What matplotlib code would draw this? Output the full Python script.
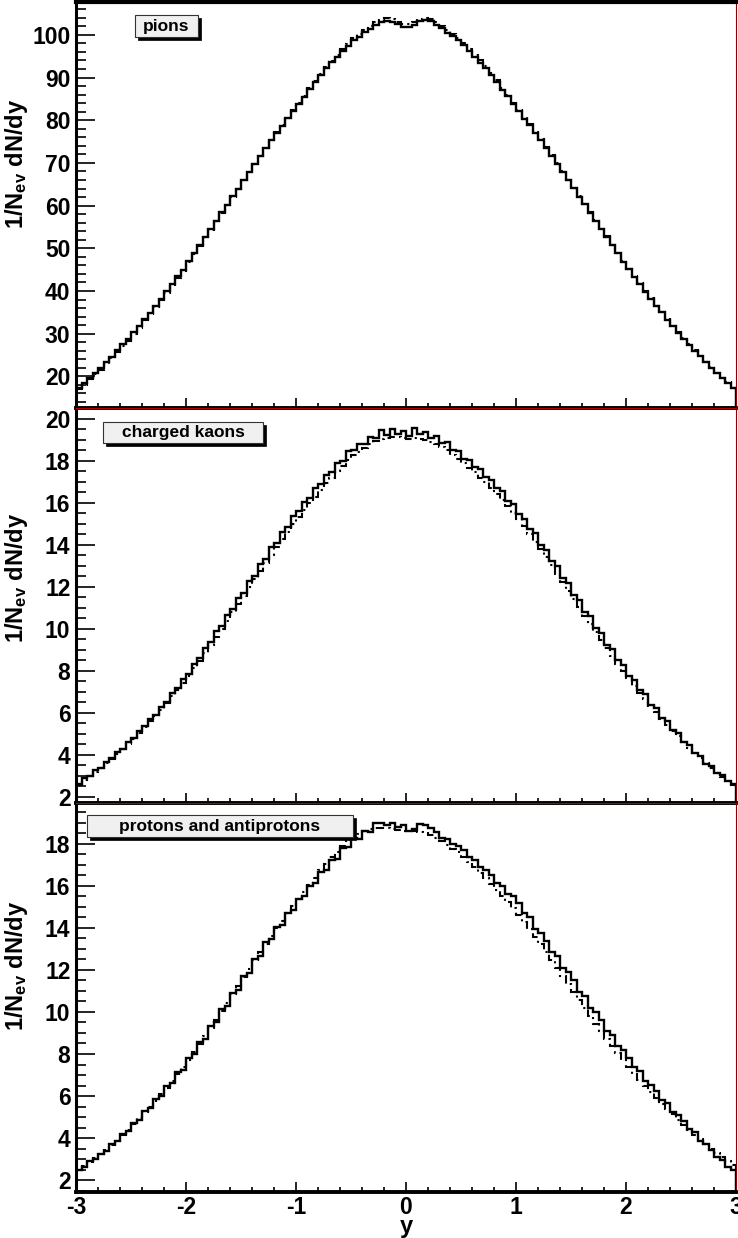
import numpy as np
import matplotlib
matplotlib.use("Agg")
import matplotlib.pyplot as plt
from matplotlib.patches import Rectangle
from matplotlib.ticker import MultipleLocator

plt.rcParams['font.family'] = ['Liberation Sans', 'DejaVu Sans']
plt.rcParams['font.weight'] = 'bold'
plt.rcParams['axes.unicode_minus'] = False
plt.rcParams['mathtext.fontset'] = 'custom'
plt.rcParams['mathtext.rm'] = 'Liberation Sans:bold'
plt.rcParams['mathtext.bf'] = 'Liberation Sans:bold'
plt.rcParams['mathtext.it'] = 'Liberation Sans:bold'

# rapidity binning: 120 bins of width 0.05 from -3 to 3
edges = np.linspace(-3, 3, 121)

pions_solid = [
    17.3, 18.4, 19.7, 20.9, 21.9, 23.4, 24.6, 26.1, 27.5, 28.7,
    30.4, 31.7, 33.5, 34.9, 36.6, 38.1, 40.0, 41.6, 43.5, 45.0,
    47.0, 48.8, 50.8, 52.6, 54.6, 56.4, 58.4, 60.2, 62.2, 64.0,
    66.0, 67.8, 69.8, 71.6, 73.6, 75.3, 77.1, 78.7, 80.5, 82.1,
    83.9, 85.5, 87.3, 88.9, 90.7, 92.2, 93.6, 94.9, 96.3, 97.5,
    98.8, 99.6, 100.6, 101.4, 102.4, 103.0, 103.3, 103.1, 102.5, 101.9,
    101.8, 102.4, 103.2, 103.5, 103.2, 102.3, 101.5, 100.5, 99.7, 98.7,
    97.6, 96.3, 94.9, 93.5, 92.2, 90.6, 89.0, 87.2, 85.6, 83.8,
    82.2, 80.4, 78.8, 77.0, 75.4, 73.5, 71.7, 69.7, 67.9, 65.9,
    64.1, 62.1, 60.3, 58.3, 56.5, 54.5, 52.7, 50.7, 48.9, 46.9,
    45.1, 43.4, 41.7, 39.8, 38.2, 36.5, 35.0, 33.3, 31.8, 30.2,
    28.8, 27.4, 26.0, 24.7, 23.3, 22.0, 20.8, 19.6, 18.5, 17.2,
]
pions_dashed = [
    17.0, 18.1, 19.3, 20.5, 21.6, 23.0, 24.2, 25.7, 27.1, 28.4,
    30.0, 31.4, 33.1, 34.6, 36.2, 37.8, 39.6, 41.3, 43.1, 44.7,
    46.8, 48.6, 50.6, 52.5, 54.4, 56.3, 58.3, 60.1, 62.1, 64.0,
    65.9, 67.8, 69.7, 71.6, 73.6, 75.4, 77.2, 78.9, 80.6, 82.3,
    84.1, 85.7, 87.5, 89.2, 90.9, 92.5, 93.9, 95.3, 96.7, 97.9,
    99.2, 100.1, 101.1, 102.0, 102.9, 103.6, 103.9, 103.8, 103.1, 102.6,
    102.5, 103.0, 103.7, 104.0, 103.8, 102.9, 102.1, 101.1, 100.2, 99.2,
    98.1, 96.8, 95.4, 94.0, 92.6, 91.0, 89.4, 87.6, 86.0, 84.1,
    82.5, 80.7, 79.1, 77.3, 75.6, 73.8, 71.9, 69.9, 68.1, 66.1,
    64.2, 62.3, 60.4, 58.4, 56.6, 54.6, 52.8, 50.8, 49.0, 47.0,
    45.2, 43.5, 41.8, 39.9, 38.3, 36.6, 35.1, 33.4, 31.9, 30.3,
    28.9, 27.5, 26.1, 24.8, 23.4, 22.1, 20.9, 19.7, 18.6, 17.3,
]

kaons_solid = [
    2.62, 2.88, 3.00, 3.26, 3.38, 3.66, 3.84, 4.14, 4.30, 4.62,
    4.80, 5.16, 5.38, 5.72, 5.92, 6.30, 6.54, 6.95, 7.18, 7.60,
    7.85, 8.32, 8.60, 9.10, 9.36, 9.88, 10.15, 10.68, 10.95, 11.48,
    11.72, 12.28, 12.50, 13.10, 13.32, 13.90, 14.10, 14.62, 14.86, 15.38,
    15.60, 16.05, 16.22, 16.70, 16.88, 17.32, 17.45, 17.90, 18.00, 18.45,
    18.50, 18.82, 18.80, 19.15, 19.10, 19.45, 19.25, 19.50, 19.30, 19.42,
    19.20, 19.55, 19.30, 19.40, 19.10, 19.20, 18.85, 18.90, 18.50, 18.45,
    18.10, 18.05, 17.70, 17.60, 17.25, 17.10, 16.70, 16.55, 16.10, 15.95,
    15.45, 15.25, 14.75, 14.55, 14.00, 13.78, 13.22, 12.98, 12.42, 12.20,
    11.62, 11.40, 10.82, 10.60, 10.02, 9.80, 9.25, 9.05, 8.50, 8.30,
    7.75, 7.58, 7.08, 6.90, 6.40, 6.25, 5.78, 5.62, 5.18, 5.02,
    4.60, 4.48, 4.08, 3.96, 3.56, 3.46, 3.14, 3.05, 2.74, 2.62,
]
kaons_dashed = [
    2.58, 2.80, 2.98, 3.20, 3.36, 3.60, 3.80, 4.06, 4.28, 4.52,
    4.76, 5.06, 5.32, 5.60, 5.86, 6.16, 6.46, 6.80, 7.10, 7.44,
    7.74, 8.12, 8.48, 8.86, 9.22, 9.60, 10.00, 10.40, 10.80, 11.20,
    11.56, 11.98, 12.36, 12.76, 13.12, 13.54, 13.90, 14.28, 14.62, 15.00,
    15.32, 15.66, 15.98, 16.30, 16.60, 16.94, 17.20, 17.50, 17.76, 18.02,
    18.26, 18.44, 18.62, 18.80, 18.94, 19.02, 19.10, 19.12, 19.16, 19.10,
    19.06, 19.10, 19.04, 18.98, 18.90, 18.80, 18.64, 18.50, 18.30, 18.10,
    17.90, 17.68, 17.45, 17.20, 16.98, 16.72, 16.42, 16.12, 15.84, 15.54,
    15.22, 14.88, 14.52, 14.16, 13.80, 13.42, 13.02, 12.62, 12.22, 11.82,
    11.42, 11.02, 10.62, 10.22, 9.84, 9.46, 9.08, 8.70, 8.34, 7.98,
    7.64, 7.30, 6.96, 6.64, 6.32, 6.02, 5.72, 5.44, 5.16, 4.88,
    4.60, 4.34, 4.08, 3.84, 3.60, 3.38, 3.16, 2.96, 2.76, 2.58,
]

protons_solid = [
    2.50, 2.62, 2.90, 2.98, 3.26, 3.38, 3.72, 3.84, 4.20, 4.32,
    4.70, 4.86, 5.28, 5.42, 5.84, 5.98, 6.46, 6.60, 7.12, 7.26,
    7.82, 7.98, 8.58, 8.72, 9.34, 9.50, 10.12, 10.28, 10.92, 11.06,
    11.72, 11.88, 12.54, 12.68, 13.32, 13.48, 14.04, 14.16, 14.72, 14.84,
    15.40, 15.50, 16.02, 16.12, 16.66, 16.76, 17.24, 17.30, 17.80, 17.86,
    18.30, 18.22, 18.62, 18.55, 18.98, 19.02, 18.90, 18.98, 18.80, 18.88,
    18.60, 18.72, 18.95, 18.88, 18.78, 18.55, 18.30, 18.25, 17.98, 17.92,
    17.72, 17.40, 17.24, 16.90, 16.78, 16.52, 16.15, 16.00, 15.62, 15.50,
    15.20, 14.70, 14.50, 13.96, 13.78, 13.40, 12.86, 12.66, 12.10, 11.90,
    11.50, 10.96, 10.76, 10.20, 10.00, 9.60, 9.10, 8.90, 8.38, 8.18,
    7.82, 7.36, 7.18, 6.72, 6.54, 6.24, 5.82, 5.66, 5.26, 5.10,
    4.82, 4.42, 4.28, 3.86, 3.72, 3.44, 3.08, 2.96, 2.60, 2.46,
]
protons_dashed = [
    2.46, 2.66, 2.84, 3.04, 3.22, 3.44, 3.68, 3.92, 4.16, 4.40,
    4.66, 4.94, 5.22, 5.50, 5.78, 6.08, 6.40, 6.72, 7.04, 7.36,
    7.72, 8.10, 8.48, 8.86, 9.24, 9.64, 10.04, 10.44, 10.84, 11.24,
    11.66, 12.06, 12.46, 12.86, 13.26, 13.64, 14.00, 14.34, 14.70, 15.04,
    15.38, 15.72, 16.06, 16.40, 16.74, 17.06, 17.36, 17.64, 17.92, 18.16,
    18.34, 18.48, 18.60, 18.70, 18.76, 18.78, 18.74, 18.70, 18.66, 18.62,
    18.60, 18.60, 18.56, 18.50, 18.44, 18.30, 18.14, 17.96, 17.78, 17.60,
    17.38, 17.14, 16.90, 16.64, 16.38, 16.10, 15.82, 15.54, 15.24, 14.94,
    14.62, 14.28, 13.94, 13.58, 13.22, 12.84, 12.46, 12.08, 11.70, 11.32,
    10.94, 10.56, 10.18, 9.80, 9.44, 9.08, 8.72, 8.38, 8.04, 7.70,
    7.38, 7.06, 6.76, 6.46, 6.18, 5.90, 5.64, 5.38, 5.12, 4.88,
    4.64, 4.40, 4.16, 3.94, 3.72, 3.50, 3.30, 3.10, 2.90, 2.70,
]

labels = ["pions", "charged kaons", "protons and antiprotons"]

W, H = 738, 1238
fig = plt.figure(figsize=(W / 100, H / 100), dpi=100)

# pad extents in pixels: (top, bottom)
pads = [(2, 408), (408, 803), (803, 1192)]
x0, x1 = 76, 736
ylims = [(12.6, 107.7), (1.71, 20.52), (1.43, 19.95)]
majors = [10, 2, 2]
minors = [2, 0.5, 0.5]
ylab_pos = [0.6, 0.57, 0.58]
# label boxes (left, top, right, bottom) in pixels
boxes = [(135, 15, 198, 37), (103, 422, 263, 443), (87, 815, 353, 837)]

series = [(pions_solid, pions_dashed), (kaons_solid, kaons_dashed),
          (protons_solid, protons_dashed)]

axes = []
for i, (top, bot) in enumerate(pads):
    ax = fig.add_axes([x0 / W, 1 - bot / H, (x1 - x0) / W, (bot - top) / H])
    ax.set_facecolor('none')
    solid, dashed = series[i]
    ax.stairs(dashed, edges, color='black', lw=1.5, linestyle=(0, (4, 2, 1, 2)))
    ax.stairs(solid, edges, color='black', lw=1.7)
    ax.set_xlim(-3, 3)
    ax.set_ylim(*ylims[i])
    ax.xaxis.set_major_locator(MultipleLocator(1))
    ax.xaxis.set_minor_locator(MultipleLocator(0.2))
    ax.yaxis.set_major_locator(MultipleLocator(majors[i]))
    ax.yaxis.set_minor_locator(MultipleLocator(minors[i]))
    ax.tick_params(axis='y', which='major', direction='in', length=14, width=1.2,
                   labelsize=16.5, pad=4)
    ax.tick_params(axis='y', which='minor', direction='in', length=7, width=1.2)
    ax.tick_params(axis='x', which='major', direction='in', length=7, width=1.2,
                   labelsize=16.5, pad=3)
    ax.tick_params(axis='x', which='minor', direction='in', length=3.5, width=1.2)
    ax.tick_params(top=False, right=False)
    for lab in ax.get_yticklabels() + ax.get_xticklabels():
        lab.set_fontweight('bold')
    ax.spines['left'].set_linewidth(2.2)
    ax.spines['bottom'].set_linewidth(2.8)
    ax.spines['right'].set_linewidth(0.8)
    ax.spines['right'].set_color('#8b0000')
    if i == 0:
        ax.spines['top'].set_linewidth(3.0)
    else:
        ax.spines['top'].set_linewidth(0.8)
        ax.spines['top'].set_color('#b00000')
    if i < 2:
        ax.tick_params(labelbottom=False)
    ax.set_ylabel(r"1/N$_{\mathbf{ev}}$ dN/dy", fontsize=17, fontweight='bold')
    ax.yaxis.set_label_coords(-0.07, ylab_pos[i])
    axes.append(ax)

axes[2].set_xlabel("y", fontsize=17, fontweight='bold', labelpad=-3)

# titled label boxes with drop shadow
for (l, t, r, b), text in zip(boxes, labels):
    sh = 3
    fig.add_artist(Rectangle((l / W + sh / W, 1 - (b + sh) / H), (r - l) / W, (b - t) / H,
                             transform=fig.transFigure, facecolor='black',
                             edgecolor='black', lw=0.5, zorder=5))
    fig.add_artist(Rectangle((l / W, 1 - b / H), (r - l) / W, (b - t) / H,
                             transform=fig.transFigure, facecolor='#f0f0f0',
                             edgecolor='#333333', lw=0.8, zorder=6))
    fig.text((l + r) / 2 / W, 1 - (t + b) / 2 / H, text, ha='center', va='center',
             fontsize=12.5, fontweight='bold', zorder=7)

fig.savefig("out.png", dpi=100)
